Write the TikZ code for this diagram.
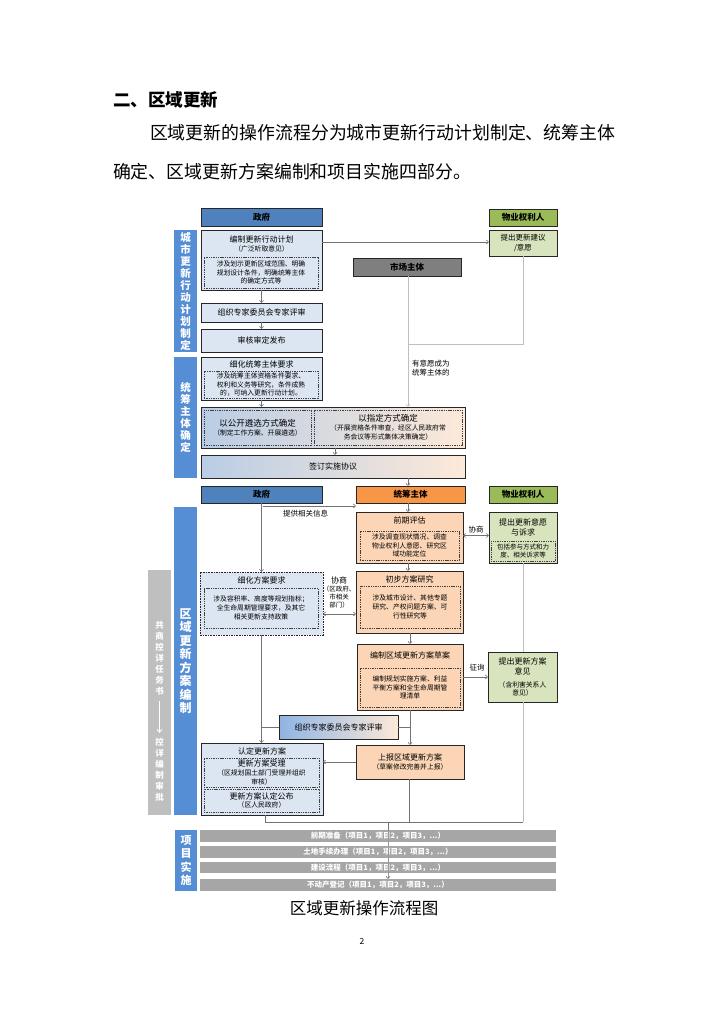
\documentclass[tikz,border=0pt]{standalone}
\usepackage{fontspec}
\setmainfont{Noto Sans CJK SC}
\usetikzlibrary{arrows.meta,shadings}
\newcommand\myfs[2]{\fontsize{#1}{#2}\selectfont}
\definecolor{hblue}{HTML}{4F81BD}
\definecolor{labblue}{HTML}{558ED5}
\definecolor{lblue}{HTML}{DCE6F2}
\definecolor{hgreen}{HTML}{9BBB59}
\definecolor{lgreen}{HTML}{D7E4BD}
\definecolor{horange}{HTML}{F79646}
\definecolor{peach}{HTML}{FBD5B5}
\definecolor{grayrow}{HTML}{A6A6A6}
\definecolor{graylab}{HTML}{BFBFBF}
\definecolor{mkt}{HTML}{7F7F7F}
\definecolor{gbl}{HTML}{B9CDE5}
\definecolor{gpe}{HTML}{FDE9D9}
\definecolor{gbl2}{HTML}{8EB4E3}
\begin{document}
\begin{tikzpicture}[x=1pt,y=-1pt,
 every node/.style={inner sep=0pt,outer sep=0pt,align=center},
 box/.style={draw=black!85,line width=0.8pt,anchor=north west},
 inbox/.style={draw=black!75,line width=0.45pt,dash pattern=on 1.4pt off 0.9pt,anchor=north west,font=\myfs{6.8}{8.8}},
 ttl/.style={font=\myfs{8}{10}},
 sub/.style={font=\myfs{6.8}{8.6}},
 hdr/.style={box,font=\bfseries\myfs{8.5}{10}},
 lab/.style={fill=labblue,anchor=north west,text=white,font=\bfseries\myfs{10.5}{12}},
 conn/.style={draw=black!55,line width=0.6pt},
 arr/.style={conn,-{Straight Barb[length=2.2pt,width=4pt]}},
 darr/.style={conn,{Straight Barb[length=2.2pt,width=4pt]}-{Straight Barb[length=2.2pt,width=4pt]}},
 lconn/.style={draw=black!25,line width=0.6pt},
 larr/.style={lconn,-{Straight Barb[length=2.2pt,width=4pt]}},
 row/.style={fill=grayrow,anchor=north west,minimum width=356pt,text=white,font=\bfseries\myfs{7.5}{9}},
 small/.style={font=\myfs{7.5}{9.5}}
]
\useasboundingbox[fill=white] (0,0) rectangle (724,1024);

% ---------- text of the page ----------
\node[anchor=west,font=\bfseries\myfs{17.5}{20}] (head) at (113,100) {二、区域更新};
\node[anchor=west,font=\myfs{17.9}{20}] (par1) at (150,133) {区域更新的操作流程分为城市更新行动计划制定、统筹主体};
\node[anchor=west,font=\myfs{17.9}{20}] (par2) at (113,172) {确定、区域更新方案编制和项目实施四部分。};
\node[font=\myfs{16.5}{18}] (cap) at (364,908) {区域更新操作流程图};
\node[font=\myfs{8.5}{10}] (pg) at (362,941) {2};

% ---------- section 1 ----------
\node[lab,minimum width=23pt,minimum height=122pt] (L1) at (174,230) {城\\市\\更\\新\\行\\动\\计\\划\\制\\定};
\node[hdr,fill=hblue,minimum width=121pt,minimum height=18pt] (G1) at (201,208) {政府};
\node[hdr,fill=hgreen,minimum width=68pt,minimum height=17pt] (P1) at (489,209) {物业权利人};
\node[box,fill=lblue,minimum width=121pt,minimum height=60pt] (A1) at (201,230) {};
\node[ttl] (A1t) at (261.5,239) {编制更新行动计划};
\node[sub] (A1s) at (261.5,249) {（广泛听取意见）};
\node[inbox,minimum width=114pt,minimum height=31pt] (A1i) at (204,257) {涉及划示更新区域范围、明确\\规划设计条件，明确统筹主体\\的确定方式等};
\node[box,fill=lblue,minimum width=121pt,minimum height=19pt,ttl] (A2) at (201,303) {组织专家委员会专家评审};
\node[box,fill=lblue,minimum width=121pt,minimum height=23pt,ttl] (A3) at (201,329) {审核审定发布};
\node[box,fill=lgreen,minimum width=68pt,minimum height=26pt,small] (B1) at (489,230) {提出更新建议\\/意愿};
\node[hdr,fill=mkt,minimum width=108pt,minimum height=18pt] (M1) at (353,258) {市场主体};
\coordinate (j1) at (408,344);
\coordinate (j2) at (523,344);
\node[anchor=north west,small] (wl) at (412,360) {有意愿成为\\统筹主体的};

% ---------- section 2 ----------
\node[lab,minimum width=23pt,minimum height=121pt] (L2) at (174,357) {统\\筹\\主\\体\\确\\定};
\node[box,fill=lblue,minimum width=121pt,minimum height=43pt] (C1) at (201,357) {};
\node[ttl] (C1t) at (261.5,364) {细化统筹主体要求};
\node[inbox,minimum width=114pt,minimum height=27pt] (C1i) at (204,371) {涉及统筹主体资格条件要求、\\权利和义务等研究，条件成熟\\的，可纳入更新行动计划。};
\node[box,left color=gbl,right color=gpe,minimum width=264pt,minimum height=41pt] (C2) at (201,407) {};
\node[inbox,minimum width=107pt,minimum height=35pt] (D1) at (204,410) {{\myfs{8.5}{11}以公开遴选方式确定}\\（制定工作方案、开展遴选）};
\node[inbox,minimum width=148pt,minimum height=35pt] (D2) at (314,410) {{\myfs{8.5}{11}以指定方式确定}\\（开展资格条件审查，经区人民政府常\\务会议等形式集体决策确定）};
\node[box,left color=gbl,right color=gpe,minimum width=264pt,minimum height=23pt,ttl] (C3) at (201,455) {签订实施协议};

% ---------- section 3 ----------
\node[hdr,fill=hblue,minimum width=121pt,minimum height=17pt] (G2) at (201,486) {政府};
\node[hdr,fill=horange,minimum width=109pt,minimum height=17pt] (T2) at (356,486) {统筹主体};
\node[hdr,fill=hgreen,minimum width=68pt,minimum height=17pt] (P2) at (489,486) {物业权利人};
\node[lab,minimum width=23pt,minimum height=308pt,font=\bfseries\myfs{12}{13.5}] (L3) at (174,507) {区\\域\\更\\新\\方\\案\\编\\制};
\node[fill=graylab,anchor=north west,minimum width=23pt,minimum height=245pt] (GL) at (148,570) {};
\node[text=white,font=\bfseries\myfs{8.5}{11}] (GLa) at (159.5,658) {共\\商\\控\\详\\任\\务\\书};
\node[text=white,font=\bfseries\myfs{8.5}{11}] (GLb) at (159.5,770) {控\\详\\编\\制\\审\\批};
\draw[draw=white,line width=0.8pt,-{Straight Barb[length=3pt,width=5pt]}] (GLa.south) ++(0,6) -- (159.5,733);

\coordinate (jb1) at (265,822);
\coordinate (jb2) at (409,822);
\coordinate (jb3) at (523,822);
\coordinate (jb4) at (388,822);

\node[box,fill=peach,minimum width=107pt,minimum height=51pt] (E1) at (356,512) {};
\node[ttl] (E1t) at (409.5,520) {前期评估};
\node[inbox,minimum width=99pt,minimum height=29pt] (E1i) at (360,531) {涉及调查现状情况、调查\\物业权利人意愿、研究区\\域功能定位};
\node[box,fill=lgreen,minimum width=68pt,minimum height=51pt] (F1) at (489,512) {};
\node[ttl] (F1t) at (523,527) {提出更新意愿\\与诉求};
\node[inbox,minimum width=64pt,minimum height=20pt,font=\myfs{6.5}{8.5}] (F1i) at (491,541) {包括参与方式和力\\度、相关诉求等};
\node[box,dash pattern=on 1.6pt off 1pt,fill=lblue,minimum width=123pt,minimum height=63pt] (H1) at (200,572) {};
\node[ttl] (H1t) at (261.5,580) {细化方案要求};
\node[inbox,minimum width=114pt,minimum height=40pt] (H1i) at (204,588) {涉及容积率、高度等规划指标；\\全生命周期管理要求，及其它\\相关更新支持政策};
\node[box,fill=peach,minimum width=107pt,minimum height=62pt] (E2) at (356,571) {};
\node[ttl] (E2t) at (409.5,579) {初步方案研究};
\node[inbox,minimum width=100pt,minimum height=42pt] (E2i) at (360,586) {涉及城市设计、其他专题\\研究、产权问题方案、可\\行性研究等};
\node[box,fill=peach,minimum width=106pt,minimum height=66pt] (E3) at (357,644) {};
\node[ttl] (E3t) at (410,655) {编制区域更新方案草案};
\node[inbox,minimum width=100pt,minimum height=39pt] (E3i) at (360,668) {编制规划实施方案、利益\\平衡方案和全生命周期管\\理清单};
\node[box,fill=lgreen,minimum width=69pt,minimum height=50pt] (F2) at (488,652) {};
\node[ttl] (F2t) at (522.5,666) {提出更新方案\\意见};
\node[sub] (F2s) at (522.5,689) {（含利害关系人\\意见）};
\node[box,left color=gbl2,right color=gpe,minimum width=119pt,minimum height=24pt,ttl] (K1) at (279,715) {组织专家委员会专家评审};
\node[box,fill=lblue,minimum width=122pt,minimum height=72pt] (R1) at (201,743) {};
\node[ttl] (R1t) at (262,751) {认定更新方案};
\node[inbox,minimum width=115pt,minimum height=29pt] (R1i) at (204,758) {{\myfs{8}{10}更新方案受理}\\（区规划国土部门受理并组织\\审核）};
\node[inbox,minimum width=115pt,minimum height=23pt] (R1j) at (204,789) {{\myfs{8}{10}更新方案认定公布}\\（区人民政府）};
\node[box,fill=peach,minimum width=108pt,minimum height=34pt,font=\myfs{6.8}{8.6}] (U1) at (356,745) {{\myfs{8}{10}上报区域更新方案}\\[1pt]（草案修改完善并上报）};

% ---------- section 4 ----------
\node[lab,minimum width=22pt,minimum height=61pt,font=\bfseries\myfs{11}{13.5}] (L4) at (175,830) {项\\目\\实\\施};

% ---------- connectors ----------
\draw[arr] (A1.south) -- (A2.north);
\draw[arr] (A2.south) -- (A3.north);
\draw[arr] (A1.east |- B1.west) ++(0,-1) coordinate (a1e) (a1e) -- (B1.west |- a1e);
\draw[lconn] (M1.south -| j1) -- (j1);
\draw[larr] (j1) -- (C2.north -| j1);
\draw[lconn] (B1.south -| j2) -- (j2) -- (j1);
\draw[arr] (C1.south) -- (C1.south |- C2.north);
\coordinate (x335) at (335,0);
\draw[arr] (C2.south -| x335) -- (C3.north -| x335);
\draw[arr] (C3.south -| j1) -- (T2.north -| j1);
\draw[arr] (G2.south -| C1.south) -- (H1.north -| C1.south);
\coordinate (pi) at (263,506);
\draw[arr] (pi) -- (pi -| T2.west);
\node[anchor=north west,small] (pil) at (283,510) {提供相关信息};
\draw[arr] (T2.south -| j1) -- (E1.north -| j1);
\draw[darr] (E1.east) ++(0,-2) coordinate (e1e) (e1e) -- (F1.west |- e1e);
\node[small] (xs1) at (476,530) {协商};
\draw[arr] (E1.south -| j1) -- (E2.north -| j1);
\coordinate (y614) at (0,614);
\draw[darr] (H1.east |- y614) -- (E2.west |- y614);
\node[font=\myfs{8}{9}] (xs2) at (339,580) {协商};
\node[font=\myfs{6.5}{8.3}] (xs2b) at (339,597) {（区政府、\\市相关\\部门）};
\coordinate (x410) at (410,0);
\draw[arr] (E2.south -| x410) -- (E3.north -| x410);
\draw[arr] (E3.east) -- (F2.west |- E3.east);
\node[small] (zx) at (477,668) {征询};
\draw[arr] (E3.south -| x410) -- (U1.north -| x410);
\draw[conn] (K1.east) -- (K1.east -| x410);
\draw[arr] (H1.south -| C1.south) -- (R1.north -| C1.south);
\draw[conn] (K1.west) -- (K1.west -| C1.south);
\draw[arr] (U1.west) -- (R1.east |- U1.west);
\draw[lconn] (F1.south -| j2) -- (F2.north -| j2);
\draw[lconn] (F2.south -| j2) -- (jb3);
\draw[conn] (R1.south -| jb1) -- (jb1) -- (jb3);
\draw[conn] (U1.south -| jb2) -- (jb2);
\coordinate (q4n) at (388,879);
\draw[arr] (jb4) -- (q4n);

\node[row,minimum height=12pt] (Q1) at (200,830) {前期准备（项目1，项目2，项目3，...）};
\node[row,minimum height=12pt] (Q2) at (200,846) {土地手续办理（项目1，项目2，项目3，...）};
\node[row,minimum height=11pt] (Q3) at (200,862) {建设流程（项目1，项目2，项目3，...）};
\node[row,minimum height=12pt] (Q4) at (200,879) {不动产登记（项目1，项目2，项目3，...）};
\draw[draw=black!40,line width=0.5pt] (jb4) ++(0,8) -- (388,877);
\end{tikzpicture}
\end{document}
